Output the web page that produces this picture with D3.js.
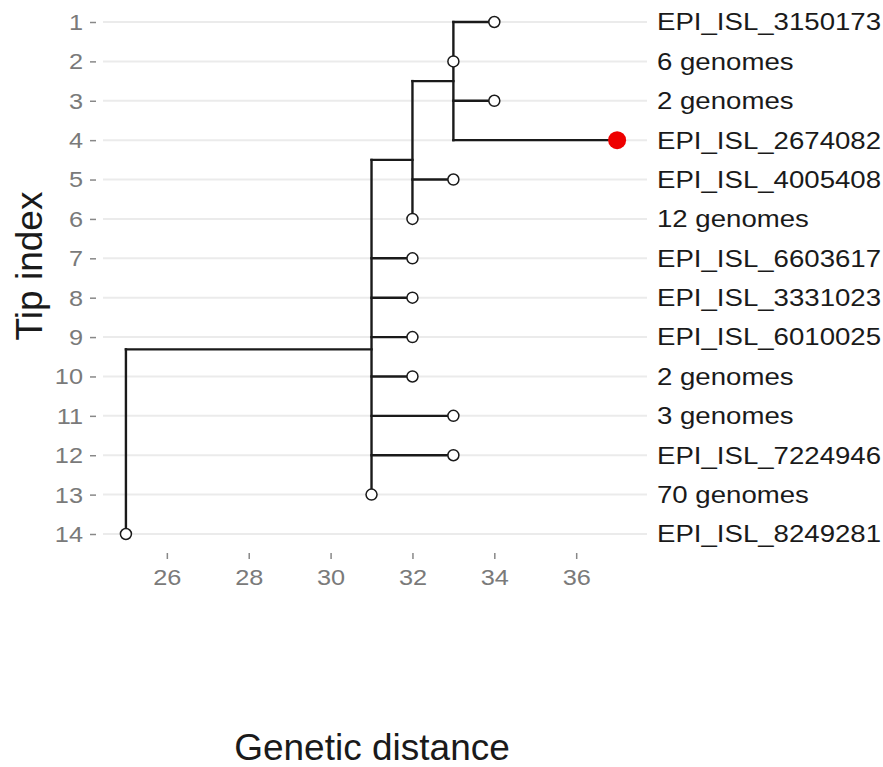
<!DOCTYPE html>
<html>
<head>
<meta charset="utf-8">
<script src="https://cdn.jsdelivr.net/npm/d3@7"></script>
<style>
  html, body { margin: 0; padding: 0; background: #fff; }
  svg { display: block; font-family: "Liberation Sans", Arial, sans-serif; }
</style>
</head>
<body>
<div id="chart"></div>
<script>
// Tips, top to bottom
const tipLabels = ['EPI_ISL_3150173', '6 genomes', '2 genomes', 'EPI_ISL_2674082', 'EPI_ISL_4005408',
  '12 genomes', 'EPI_ISL_6603617', 'EPI_ISL_3331023', 'EPI_ISL_6010025', '2 genomes',
  '3 genomes', 'EPI_ISL_7224946', '70 genomes', 'EPI_ISL_8249281']
const tipIndex = [1, 2, 3, 4, 5, 6, 7, 8, 9, 10, 11, 12, 13, 14]
const tipDistance = [34, 33, 34, 37, 33, 32, 32, 32, 32, 32, 33, 33, 31, 25]
const tipParent = ['A', 'A', 'A', 'A', 'B', 'B', 'C', 'C', 'C', 'C', 'C', 'C', 'C', 'R']

// Internal nodes (children listed before parents)
const nodeIds = ['A', 'B', 'C', 'R']
const nodeDistance = [33, 32, 31, 25]
const nodeParent = ['B', 'C', 'R', null]

const focalTip = 'EPI_ISL_2674082'
const xTicks = [26, 28, 30, 32, 34, 36]

const width = 883, height = 767
const textStretch = 1.15

const svg = d3.select('#chart').append('svg')
  .attr('width', width)
  .attr('height', height)

const x = d3.scaleLinear().domain([24.44, 37.73]).range([103, 647])
const y = d3.scaleLinear().domain([1, 14]).range([22, 534])

// layout: internal node y = mean of its children
const nodeY = {}
const nodeDist = {}
nodeIds.forEach((id, i) => { nodeDist[id] = nodeDistance[i] })
nodeIds.forEach(id => {
  const ys = []
  tipParent.forEach((p, i) => { if (p === id) ys.push(tipIndex[i]) })
  nodeIds.forEach((n, j) => { if (nodeParent[j] === id) ys.push(nodeY[n]) })
  nodeY[id] = d3.mean(ys)
})

// grid lines
svg.append('g')
  .selectAll('line')
  .data(tipIndex)
  .join('line')
  .attr('x1', x.range()[0]).attr('x2', x.range()[1])
  .attr('y1', d => y(d)).attr('y2', d => y(d))
  .attr('stroke', '#ebebeb')
  .attr('stroke-width', 2)

// y axis
const yAxis = svg.append('g')
  .attr('transform', 'translate(96,0)')
  .call(d3.axisLeft(y).tickValues(tipIndex).tickSize(6).tickPadding(0).tickFormat(d3.format('d')))
yAxis.select('.domain').remove()
yAxis.selectAll('.tick line').attr('stroke', '#888').attr('stroke-width', 1.5)
yAxis.selectAll('.tick text')
  .attr('x', null).attr('dy', null)
  .attr('font-size', 22)
  .attr('fill', '#7a7a7a')
  .attr('dominant-baseline', 'central')
  .attr('transform', `translate(-13,0) scale(${textStretch},1)`)

// x axis
const xAxis = svg.append('g')
  .attr('transform', 'translate(0,553)')
  .call(d3.axisBottom(x).tickValues(xTicks).tickSize(6).tickPadding(0))
xAxis.select('.domain').remove()
xAxis.selectAll('.tick line').attr('stroke', '#888').attr('stroke-width', 1.5)
xAxis.selectAll('.tick text')
  .attr('y', null).attr('dy', null)
  .attr('font-size', 22)
  .attr('fill', '#7a7a7a')
  .attr('transform', `translate(0,32) scale(${textStretch},1)`)

// branches
const branches = svg.append('g')
  .attr('stroke', '#1a1a1a')
  .attr('stroke-width', 2.4)
  .attr('stroke-linecap', 'square')
  .attr('fill', 'none')

tipLabels.forEach((label, i) => {
  const px = nodeDist[tipParent[i]]
  if (px === tipDistance[i]) return
  branches.append('line')
    .attr('x1', x(px)).attr('x2', x(tipDistance[i]))
    .attr('y1', y(tipIndex[i])).attr('y2', y(tipIndex[i]))
})
nodeIds.forEach((id, i) => {
  const p = nodeParent[i]
  if (p) {
    branches.append('line')
      .attr('x1', x(nodeDist[p])).attr('x2', x(nodeDistance[i]))
      .attr('y1', y(nodeY[id])).attr('y2', y(nodeY[id]))
  }
  const ys = []
  tipParent.forEach((q, k) => { if (q === id) ys.push(tipIndex[k]) })
  nodeIds.forEach((n, j) => { if (nodeParent[j] === id) ys.push(nodeY[n]) })
  branches.append('line')
    .attr('x1', x(nodeDistance[i])).attr('x2', x(nodeDistance[i]))
    .attr('y1', y(d3.min(ys))).attr('y2', y(d3.max(ys)))
})

// tips
svg.append('g')
  .selectAll('circle')
  .data(tipLabels)
  .join('circle')
  .attr('cx', (d, i) => x(tipDistance[i]))
  .attr('cy', (d, i) => y(tipIndex[i]))
  .attr('r', d => d === focalTip ? 9 : 5.5)
  .attr('fill', d => d === focalTip ? '#ee0000' : '#fff')
  .attr('stroke', d => d === focalTip ? 'none' : '#1a1a1a')
  .attr('stroke-width', 1.5)

// tip labels
svg.append('g')
  .selectAll('text')
  .data(tipLabels)
  .join('text')
  .attr('transform', (d, i) => `translate(657,${y(tipIndex[i])}) scale(${textStretch},1)`)
  .attr('dominant-baseline', 'central')
  .attr('font-size', 24)
  .attr('fill', '#1a1a1a')
  .text(d => d)

// axis titles
svg.append('text')
  .attr('transform', 'translate(42,266) rotate(-90)')
  .attr('text-anchor', 'middle')
  .attr('font-size', 37)
  .attr('fill', '#1a1a1a')
  .text('Tip index')

svg.append('text')
  .attr('x', 372)
  .attr('y', 760)
  .attr('text-anchor', 'middle')
  .attr('font-size', 37)
  .attr('fill', '#1a1a1a')
  .text('Genetic distance')
</script>
</body>
</html>
